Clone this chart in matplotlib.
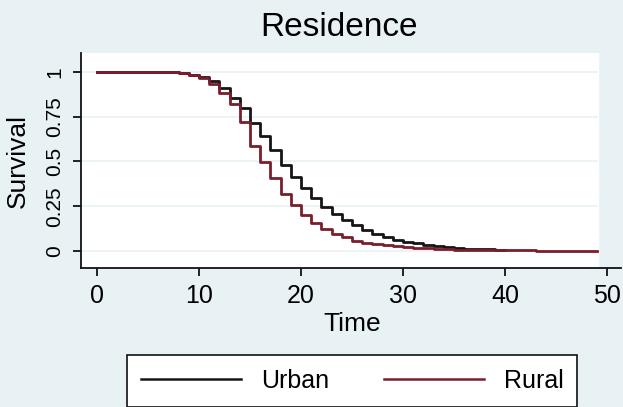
import matplotlib
matplotlib.use('Agg')
import matplotlib.pyplot as plt
import numpy as np

plt.rcParams['font.family'] = ['Liberation Sans', 'DejaVu Sans']

# Kaplan-Meier estimates, value holds on [t, t+1)
urban_time = list(range(0, 41))
urban_surv = [1.0, 1.0, 1.0, 1.0, 1.0, 1.0, 1.0, 1.0, 0.995, 0.985,
              0.972, 0.952, 0.912, 0.855, 0.797, 0.716, 0.642, 0.563, 0.483, 0.415,
              0.352, 0.296, 0.248, 0.208, 0.172, 0.145, 0.118, 0.096, 0.078, 0.064,
              0.052, 0.043, 0.034, 0.028, 0.021, 0.016, 0.013, 0.011, 0.009, 0.008,
              0.007]
rural_time = list(range(0, 50))
rural_surv = [1.0, 1.0, 1.0, 1.0, 1.0, 1.0, 1.0, 1.0, 0.993, 0.982,
              0.965, 0.935, 0.885, 0.82, 0.722, 0.587, 0.495, 0.41, 0.32, 0.255,
              0.2, 0.155, 0.121, 0.095, 0.077, 0.058, 0.046, 0.038, 0.031, 0.026,
              0.021, 0.017, 0.014, 0.011, 0.009, 0.007, 0.006, 0.005, 0.004, 0.004,
              0.003, 0.003, 0.003, 0.002, 0.002, 0.002, 0.002, 0.002, 0.002, 0.002]
labels = ['Urban', 'Rural']
colors = ['#151515', '#7a1e2c']
xticks = [0, 10, 20, 30, 40, 50]
yticks = [0, 0.25, 0.5, 0.75, 1]
ytick_labels = ['0', '0.25', '0.5', '0.75', '1']

bg = '#e8f2f5'
fig = plt.figure(figsize=(6.23, 4.07), dpi=100, facecolor=bg)
ax = fig.add_axes([81 / 623, 139 / 407, 540 / 623, 215 / 407])
ax.set_facecolor('none')

xmin, xmax = -1.57, 51.37
ax.set_xlim(xmin, xmax)
ax.set_ylim(-0.095, 1.106)

# white plot region and faint grid, ending just after the last time
plot_end = max(rural_time) + 0.1
ax.axvspan(xmin, plot_end, color='white', zorder=0)
ax.hlines(yticks, xmin, plot_end, color='#e8f1f4', lw=1.2, zorder=1)

ax.step(urban_time, urban_surv, where='post', color=colors[0], lw=2.0, label=labels[0], zorder=3)
ax.step(rural_time, rural_surv, where='post', color=colors[1], lw=2.0, label=labels[1], zorder=3)

for s in ['top', 'right']:
    ax.spines[s].set_visible(False)
for s in ['left', 'bottom']:
    ax.spines[s].set_color('#111111')
    ax.spines[s].set_linewidth(1.3)

ax.set_xticks(xticks)
ax.set_yticks(yticks)
ax.set_yticklabels(ytick_labels, rotation=90, va='center')
ax.tick_params(axis='x', length=5.8, width=1.3, color='#111111', labelsize=18, pad=6)
ax.tick_params(axis='y', length=5.8, width=1.3, color='#111111', labelsize=15, pad=6)

ax.set_xlabel('Time', fontsize=19, va='center')
ax.xaxis.set_label_coords(0.502, -0.26)
ax.set_ylabel('Survival', fontsize=19, va='center')
ax.yaxis.set_label_coords(-0.117, 0.5)

fig.text(339 / 623, 1 - 27 / 407, 'Residence', fontsize=24, ha='center', va='center')

leg = fig.legend(loc='upper left', bbox_to_anchor=(127 / 623, 1 - 355 / 407), ncol=2,
                 fontsize=18, frameon=True, fancybox=False, framealpha=1,
                 edgecolor='#111111', borderaxespad=0, borderpad=0.55,
                 handlelength=4.0, handletextpad=0.8, columnspacing=2.2)
leg.get_frame().set_linewidth(1.2)
for line in leg.get_lines():
    line.set_linewidth(1.8)

fig.savefig('out.png', dpi=100, facecolor=bg)
